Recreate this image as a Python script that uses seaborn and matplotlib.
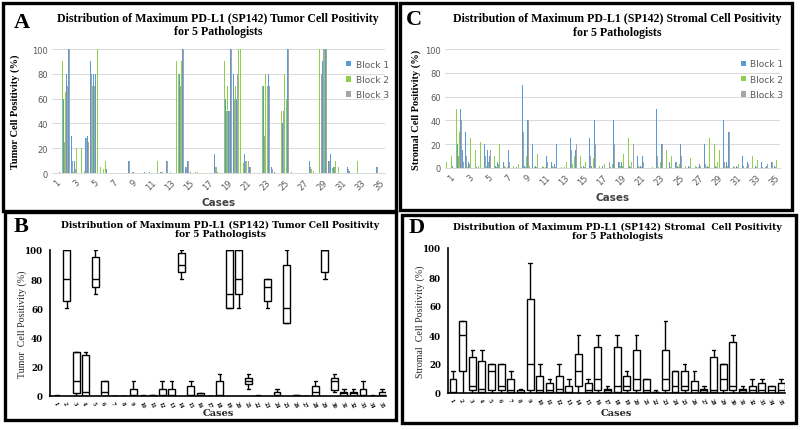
import matplotlib
matplotlib.use("Agg")
import matplotlib.pyplot as plt
import numpy as np
import pandas as pd
import seaborn as sns
from matplotlib.patches import Rectangle

# ---------------- data ----------------
CASES = list(range(1, 36))
BLOCKS = ["Block 1", "Block 2", "Block 3"]
BLOCK_COLORS = ["#5B9BD5", "#8FCF50", "#A5A5A5"]
N_PATH = 5

# Tumor cell positivity per case, 5 pathologists, for each block
TUMOR_BLOCK1 = [
    [0, 0, 0, 0, 1], [100, 60, 70, 80, 100], [30, 2, 10, 30, 1], [25, 0, 3, 28, 30],
    [90, 75, 80, 80, 100], [10, 0, 5, 10, 3], [0, 0, 0, 0, 0], [0, 0, 0, 0, 0],
    [10, 0, 1, 1, 0], [0, 0, 0, 0, 1], [0, 1, 0, 0, 1], [10, 0, 1, 1, 0],
    [10, 0, 1, 0, 0], [95, 85, 80, 90, 100], [5, 10, 1, 1, 0], [2, 1, 0, 0, 0],
    [0, 0, 0, 0, 0], [15, 10, 1, 0, 0], [90, 60, 70, 50, 100], [80, 80, 60, 100, 100],
    [10, 15, 10, 15, 5], [0, 0, 0, 0, 0], [60, 70, 60, 75, 80], [5, 0, 1, 0, 0],
    [40, 40, 50, 80, 100], [0, 1, 0, 0, 0], [0, 0, 0, 0, 0], [10, 5, 3, 0, 0],
    [100, 70, 90, 100, 100], [10, 15, 5, 5, 10], [5, 2, 0, 0, 0], [5, 2, 0, 0, 0],
    [10, 1, 0, 0, 0], [0, 0, 0, 0, 0], [5, 1, 0, 0, 0],
]
TUMOR_BLOCK2 = [
    [0, 0, 0, 0, 0], [90, 50, 65, 80, 100], [30, 1, 5, 20, 0], [20, 0, 2, 25, 30],
    [80, 70, 80, 70, 100], [5, 0, 3, 10, 1], [0, 0, 0, 0, 0], [0, 0, 0, 0, 0],
    [5, 0, 0, 1, 0], [0, 0, 0, 0, 0], [0, 1, 0, 0, 0], [10, 0, 0, 1, 0],
    [5, 0, 1, 0, 0], [90, 80, 80, 90, 100], [10, 5, 0, 1, 0], [1, 1, 0, 0, 0],
    [0, 0, 0, 0, 0], [10, 5, 0, 0, 0], [90, 60, 70, 50, 100], [60, 70, 60, 100, 100],
    [8, 10, 10, 12, 5], [0, 0, 0, 0, 0], [70, 65, 80, 70, 80], [5, 0, 0, 0, 0],
    [50, 40, 80, 60, 90], [0, 0, 0, 0, 0], [0, 0, 0, 0, 0], [10, 3, 2, 0, 0],
    [100, 85, 90, 100, 100], [5, 12, 4, 3, 10], [5, 0, 0, 0, 0], [5, 1, 0, 0, 0],
    [10, 0, 0, 0, 0], [0, 0, 0, 0, 0], [3, 0, 0, 0, 0],
]
TUMOR_BLOCK3 = [
    [0, 0, 0, 0, 1], [100, 25, 60, 70, 100], [10, 2, 3, 30, 0], [10, 0, 1, 28, 25],
    [80, 70, 70, 95, 100], [10, 0, 2, 5, 0], [0, 0, 0, 0, 0], [0, 0, 0, 0, 0],
    [10, 0, 1, 0, 0], [0, 0, 0, 0, 0], [0, 0, 0, 0, 0], [5, 0, 1, 0, 0],
    [10, 0, 0, 0, 0], [90, 85, 70, 98, 100], [5, 10, 1, 0, 0], [2, 0, 0, 0, 0],
    [0, 0, 0, 0, 0], [5, 10, 0, 0, 0], [60, 50, 60, 50, 100], [60, 70, 80, 50, 100],
    [10, 10, 8, 10, 5], [0, 0, 0, 0, 0], [60, 30, 70, 75, 70], [3, 0, 0, 0, 0],
    [40, 50, 50, 70, 100], [1, 0, 0, 0, 0], [0, 0, 0, 0, 0], [5, 3, 3, 0, 0],
    [90, 80, 100, 100, 100], [10, 10, 3, 5, 5], [3, 0, 0, 0, 0], [3, 0, 0, 0, 0],
    [5, 0, 0, 0, 0], [0, 0, 0, 0, 0], [5, 0, 0, 0, 0],
]

# Stromal cell positivity per case, 5 pathologists, for each block
STROMAL_BLOCK1 = [
    [5, 0, 0, 15, 2], [30, 20, 40, 50, 15], [30, 2, 5, 10, 0], [30, 1, 3, 10, 0],
    [20, 2, 15, 10, 0], [20, 2, 5, 10, 0], [5, 1, 2, 15, 0], [1, 0, 1, 2, 0],
    [70, 2, 20, 40, 5], [20, 1, 2, 3, 0], [5, 1, 2, 10, 0], [5, 1, 3, 20, 0],
    [2, 0, 1, 10, 0], [25, 5, 15, 15, 0], [5, 1, 2, 10, 0], [25, 2, 10, 40, 0],
    [5, 1, 2, 2, 0], [25, 1, 5, 40, 0], [5, 2, 5, 15, 0], [20, 2, 10, 40, 0],
    [10, 1, 2, 10, 0], [1, 0, 1, 2, 0], [50, 2, 10, 20, 0], [10, 1, 5, 15, 0],
    [5, 2, 5, 20, 0], [15, 0, 2, 8, 0], [5, 1, 2, 3, 0], [20, 1, 2, 30, 0],
    [15, 2, 10, 20, 0], [40, 2, 5, 30, 0], [5, 1, 2, 2, 0], [10, 0, 2, 5, 0],
    [5, 0, 2, 10, 0], [5, 0, 2, 2, 0], [5, 0, 2, 10, 0],
]
STROMAL_BLOCK2 = [
    [5, 0, 0, 10, 1], [50, 15, 30, 50, 10], [20, 1, 5, 25, 0], [15, 1, 2, 22, 0],
    [15, 2, 10, 20, 0], [10, 1, 5, 20, 0], [3, 1, 1, 10, 0], [2, 0, 0, 3, 0],
    [90, 1, 10, 65, 2], [10, 1, 1, 12, 0], [2, 1, 1, 7, 0], [3, 1, 2, 12, 0],
    [1, 0, 1, 5, 0], [10, 3, 10, 27, 0], [10, 1, 1, 5, 0], [30, 1, 8, 32, 0],
    [2, 0, 1, 3, 0], [20, 1, 3, 32, 0], [10, 2, 3, 12, 0], [25, 1, 5, 30, 0],
    [5, 1, 1, 10, 0], [0, 0, 0, 1, 0], [20, 1, 5, 30, 0], [15, 1, 3, 10, 0],
    [10, 1, 3, 15, 0], [2, 0, 1, 8, 0], [2, 0, 1, 3, 0], [10, 1, 1, 25, 0],
    [20, 1, 5, 15, 0], [30, 1, 3, 35, 0], [2, 0, 1, 3, 0], [2, 0, 1, 5, 0],
    [10, 0, 1, 7, 0], [2, 0, 1, 5, 0], [10, 0, 1, 7, 0],
]
STROMAL_BLOCK3 = [
    [2, 0, 0, 5, 0], [30, 10, 20, 40, 5], [10, 1, 3, 20, 0], [10, 0, 2, 15, 0],
    [10, 1, 5, 15, 0], [5, 1, 3, 15, 0], [2, 0, 1, 5, 0], [1, 0, 0, 1, 0],
    [30, 1, 5, 40, 1], [3, 0, 1, 10, 0], [1, 0, 1, 5, 0], [2, 0, 1, 10, 0],
    [1, 0, 0, 3, 0], [15, 2, 5, 20, 0], [5, 0, 1, 3, 0], [10, 1, 5, 20, 0],
    [1, 0, 0, 2, 0], [5, 0, 2, 20, 0], [5, 1, 2, 10, 0], [10, 1, 3, 20, 0],
    [2, 0, 1, 5, 0], [0, 0, 0, 1, 0], [10, 1, 2, 20, 0], [5, 0, 1, 10, 0],
    [5, 1, 2, 10, 0], [1, 0, 1, 5, 0], [1, 0, 1, 2, 0], [3, 0, 1, 20, 0],
    [5, 1, 3, 10, 0], [5, 1, 2, 30, 0], [1, 0, 1, 2, 0], [2, 0, 1, 3, 0],
    [3, 0, 1, 5, 0], [1, 0, 1, 3, 0], [5, 0, 1, 5, 0],
]

# Maximum positivity per pathologist (5 values per case) shown as box plots
TUMOR_MAX = [
    [0, 0, 0, 0, 1], [60, 65, 80, 100, 100], [0, 2, 10, 30, 30], [0, 0, 3, 28, 30],
    [70, 75, 80, 95, 100], [0, 0, 3, 10, 10], [0, 0, 0, 0, 0], [0, 0, 0, 0, 0],
    [0, 0, 1, 5, 10], [0, 0, 0, 0, 0.5], [0, 0, 0, 1, 1], [0, 0, 1, 5, 10],
    [0, 0, 1, 5, 10], [80, 85, 90, 98, 100], [0, 0, 1, 7, 10], [0, 0, 1, 2, 2],
    [0, 0, 0, 0, 0], [0, 0, 1, 10, 15], [60, 60, 70, 100, 100], [60, 70, 80, 100, 100],
    [5, 8, 10, 12, 15], [0, 0, 0, 0, 0.5], [60, 65, 75, 80, 80], [0, 0, 1, 3, 5],
    [50, 50, 60, 90, 100], [0, 0, 0, 0.5, 1], [0, 0, 0, 0, 0], [0, 0, 3, 7, 10],
    [80, 85, 100, 100, 100], [3, 4, 10, 12, 15], [0, 0, 2, 3, 5], [0, 0, 2, 3, 5],
    [0, 0, 1, 5, 10], [0, 0, 0, 0, 0.5], [0, 0, 1, 3, 5],
]
STROMAL_MAX = [
    [0, 0, 1, 10, 15], [0, 15, 40, 50, 50], [0, 2, 5, 25, 30], [0, 1, 3, 22, 30],
    [0, 2, 15, 20, 20], [0, 2, 5, 20, 20], [0, 1, 2, 10, 15], [0, 0, 1, 2, 3],
    [0, 2, 20, 65, 90], [0, 1, 2, 12, 20], [0, 1, 2, 7, 10], [0, 1, 3, 12, 20],
    [0, 0, 1, 5, 10], [0, 5, 15, 27, 40], [0, 1, 2, 7, 10], [0, 2, 10, 32, 40],
    [0, 1, 2, 3, 5], [0, 1, 5, 32, 40], [0, 2, 5, 12, 15], [0, 2, 10, 30, 40],
    [0, 1, 2, 10, 10], [0, 0, 1, 1, 2], [0, 2, 10, 30, 50], [0, 1, 5, 15, 15],
    [0, 2, 5, 15, 20], [0, 0, 2, 8, 15], [0, 1, 2, 3, 5], [0, 1, 2, 25, 30],
    [0, 2, 10, 20, 20], [0, 2, 5, 35, 40], [0, 1, 2, 3, 5], [0, 0, 2, 5, 10],
    [0, 0, 2, 7, 10], [0, 0, 2, 5, 5], [0, 0, 2, 7, 10],
]

Y_TICKS = [0, 20, 40, 60, 80, 100]

# ---------------- helpers ----------------
PATH_STEP = 0.17


def blocks_frame(b1, b2, b3):
    rows = []
    for bname, arr in zip(BLOCKS, [b1, b2, b3]):
        for c, vals in zip(CASES, arr):
            for p, v in enumerate(vals):
                rows.append({"pos": c + (p - 2) * PATH_STEP, "value": v, "Block": bname})
    return pd.DataFrame(rows)


def max_frame(arr):
    rows = []
    for c, vals in zip(CASES, arr):
        for v in vals:
            rows.append({"case": c, "value": v})
    return pd.DataFrame(rows)


sns.set_style("white")
plt.rcParams["font.family"] = ["DejaVu Sans"]

fig = plt.figure(figsize=(8.0, 4.31), dpi=100)
W, H = 800.0, 431.0


def fx(px):
    return px / W


def fy(py):
    return 1 - py / H


def add_axes_px(x0, x1, ytop, ybot):
    return fig.add_axes([fx(x0), fy(ybot), fx(x1) - fx(x0), fy(ytop) - fy(ybot)])


GRAY_TXT = "#595959"


def bar_panel(ax, df, ylabel, xlim, ylab_x):
    sns.barplot(data=df, x="pos", y="value", hue="Block", hue_order=BLOCKS,
                palette=BLOCK_COLORS, native_scale=True, width=0.9, errorbar=None,
                linewidth=0, saturation=1, ax=ax)
    ax.set_ylim(0, 100)
    ax.set_xlim(*xlim)
    ax.set_yticks(Y_TICKS)
    ax.set_xticks(CASES[::2])
    ax.set_xticklabels([str(c) for c in CASES[::2]], rotation=45, ha="right",
                       va="top", rotation_mode="anchor")
    ax.tick_params(axis="both", length=0, labelsize=6, colors=GRAY_TXT, pad=3)
    ax.yaxis.grid(True, color="#d9d9d9", linewidth=0.7)
    ax.set_axisbelow(True)
    for s in ["top", "right", "left"]:
        ax.spines[s].set_visible(False)
    ax.spines["bottom"].set_color("#d9d9d9")
    ax.spines["bottom"].set_linewidth(0.7)
    ax.set_xlabel("Cases", fontsize=7.5, fontweight="bold", color="#404040", labelpad=4)
    ax.set_ylabel(ylabel, fontsize=7.5, fontweight="bold", family="Liberation Serif",
                  color="black")
    ax.yaxis.set_label_coords(ylab_x, 0.5)
    h, l = ax.get_legend_handles_labels()
    ax.legend(h, l, loc="upper left", bbox_to_anchor=(0.87, 0.95), frameon=False,
              fontsize=6.5, labelcolor=GRAY_TXT, handlelength=0.55, handleheight=0.55,
              handletextpad=0.5, labelspacing=0.7, borderpad=0)


def box_panel(ax, df, ylabel, xlim, ylab_x, xlab_y):
    sns.boxplot(data=df, x="case", y="value", native_scale=True, whis=(0, 100),
                width=0.72, color="white", linecolor="black", linewidth=1.0,
                saturation=1, showfliers=False, ax=ax)
    ax.set_ylim(0, 100)
    ax.set_xlim(*xlim)
    ax.set_yticks(Y_TICKS)
    ax.set_yticklabels([str(t) for t in Y_TICKS], fontsize=6.2, fontweight="bold",
                       family="DejaVu Serif")
    ax.set_xticks(CASES)
    ax.set_xticklabels([str(c) for c in CASES], fontsize=3.4, fontweight="bold",
                       family="DejaVu Serif", rotation=-65, ha="left", va="top",
                       rotation_mode="anchor")
    ax.tick_params(axis="y", direction="out", length=3, width=1, pad=2, colors="black")
    ax.tick_params(axis="x", direction="out", length=1.5, width=0.8, pad=1.5, colors="black")
    for s in ["top", "right"]:
        ax.spines[s].set_visible(False)
    for s in ["left", "bottom"]:
        ax.spines[s].set_color("black")
        ax.spines[s].set_linewidth(1.2)
    ax.set_xlabel("Cases", fontsize=7, fontweight="bold", family="DejaVu Serif")
    ax.xaxis.set_label_coords(0.5, xlab_y)
    ax.set_ylabel(ylabel, fontsize=7.2, family="Liberation Serif")
    ax.yaxis.set_label_coords(ylab_x, 0.5)
    ax.grid(False)


# ---------------- panels ----------------
axA = add_axes_px(52, 385, 50, 174)
bar_panel(axA, blocks_frame(TUMOR_BLOCK1, TUMOR_BLOCK2, TUMOR_BLOCK3),
          "Tumor Cell Positivity (%)", (0.58, 35.52), -0.096)

axC = add_axes_px(445, 780, 50, 169)
bar_panel(axC, blocks_frame(STROMAL_BLOCK1, STROMAL_BLOCK2, STROMAL_BLOCK3),
          "Stromal Cell Positivity (%)", (0.48, 35.52), -0.072)

axB = add_axes_px(50, 386, 251, 397)
box_panel(axB, max_frame(TUMOR_MAX), "Tumor  Cell Positivity (%)", (0.27, 35.4),
          -0.068, -0.085)

axD = add_axes_px(448, 785, 249, 394)
box_panel(axD, max_frame(STROMAL_MAX), "Stromal  Cell Positivity (%)", (0.48, 35.4),
          -0.068, -0.105)

# titles
serif_bold = dict(family="Liberation Serif", fontweight="bold", color="black")
fig.text(fx(218), fy(19), "Distribution of Maximum PD-L1 (SP142) Tumor Cell Positivity",
         ha="center", va="center", fontsize=8.6, **serif_bold)
fig.text(fx(218), fy(32), "for 5 Pathologists", ha="center", va="center", fontsize=8.6,
         **serif_bold)
fig.text(fx(617), fy(19), "Distribution of Maximum PD-L1 (SP142) Stromal Cell Positivity",
         ha="center", va="center", fontsize=8.6, **serif_bold)
fig.text(fx(617), fy(33), "for 5 Pathologists", ha="center", va="center", fontsize=8.6,
         **serif_bold)

wide_bold = dict(family="DejaVu Serif", fontweight="bold", color="black")
fig.text(fx(220), fy(225), "Distribution of Maximum PD-L1 (SP142) Tumor Cell Positivity",
         ha="center", va="center", fontsize=6.6, **wide_bold)
fig.text(fx(220), fy(234.5), "for 5 Pathologists", ha="center", va="center", fontsize=6.6,
         **wide_bold)
fig.text(fx(617), fy(227), "Distribution of Maximum PD-L1 (SP142) Stromal  Cell Positivity",
         ha="center", va="center", fontsize=6.6, **wide_bold)
fig.text(fx(617), fy(236.5), "for 5 Pathologists", ha="center", va="center", fontsize=6.6,
         **wide_bold)

# panel letters
for letter, (x, y) in {"A": (22, 23), "C": (414, 20), "B": (21, 227), "D": (417, 228)}.items():
    fig.text(fx(x), fy(y), letter, ha="center", va="center", fontsize=16,
             family="Liberation Serif", fontweight="bold", color="black")

# panel frames
for (x0, y0, x1, y1) in [(3, 4, 396, 212), (400, 4, 792, 211), (5, 213, 396, 421),
                         (402, 216, 796, 424)]:
    fig.add_artist(Rectangle((fx(x0), fy(y1)), fx(x1) - fx(x0), fy(y0) - fy(y1),
                             transform=fig.transFigure, fill=False,
                             edgecolor="black", linewidth=2.4))

fig.savefig("out.png", dpi=100, facecolor="white")
